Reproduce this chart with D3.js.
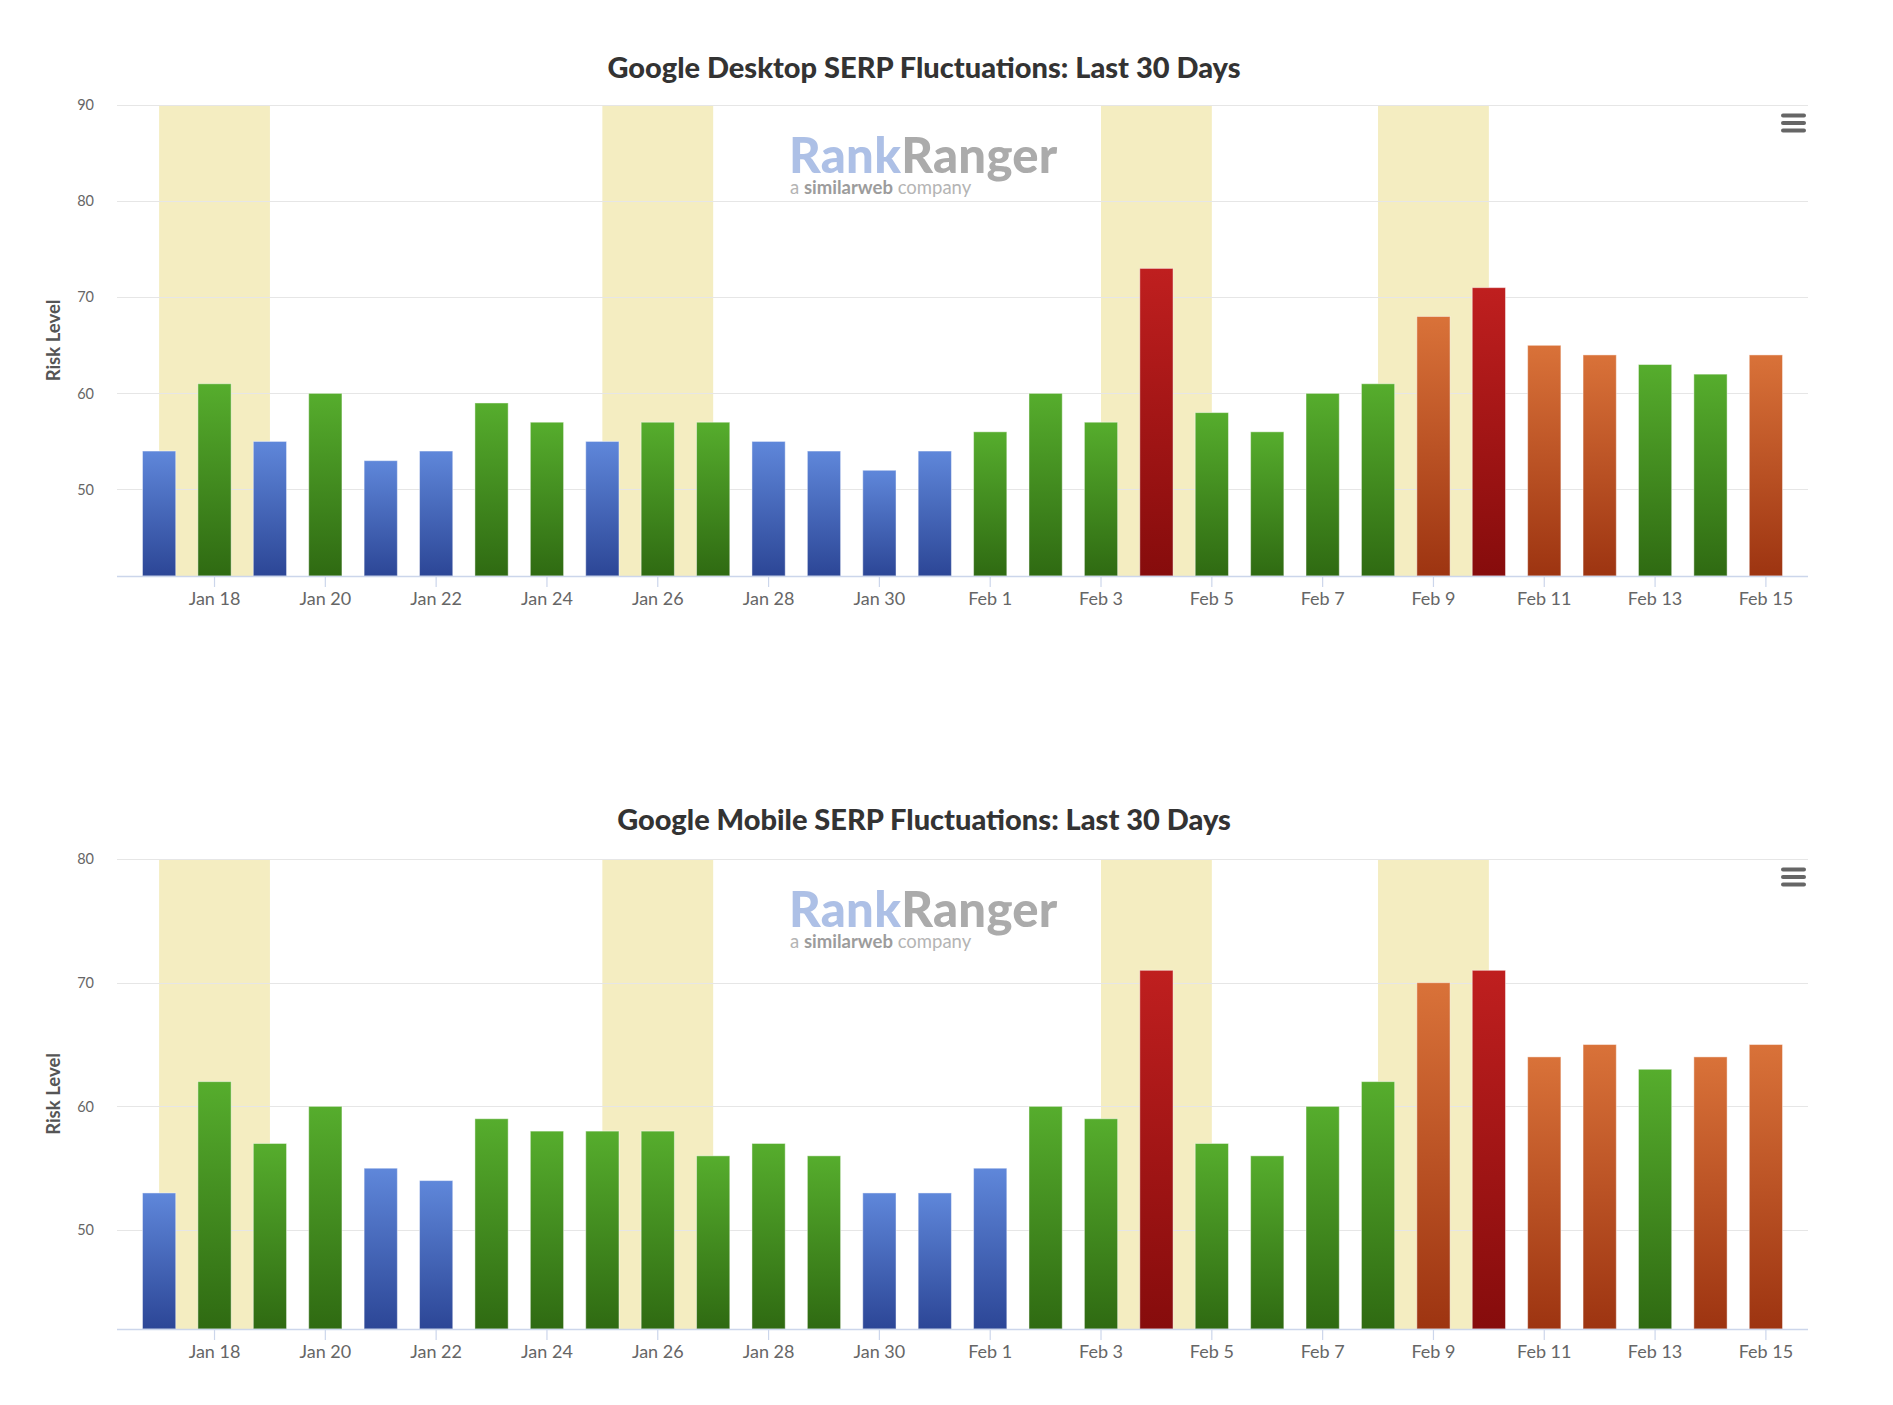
<!DOCTYPE html>
<html>
<head>
<meta charset="utf-8">
<script src="https://cdn.jsdelivr.net/npm/d3@7"></script>
<style>
  html, body { margin: 0; padding: 0; background: #fff; }
  svg { display: block; font-family: Lato, "Open Sans", sans-serif; }
</style>
</head>
<body>
<svg id="chart" width="1893" height="1405"></svg>
<script>
// ---- data ----
const categories = ["Jan 17","Jan 18","Jan 19","Jan 20","Jan 21","Jan 22","Jan 23","Jan 24","Jan 25","Jan 26",
  "Jan 27","Jan 28","Jan 29","Jan 30","Jan 31","Feb 1","Feb 2","Feb 3","Feb 4","Feb 5",
  "Feb 6","Feb 7","Feb 8","Feb 9","Feb 10","Feb 11","Feb 12","Feb 13","Feb 14","Feb 15"];
const tickLabels = ["Jan 18","Jan 20","Jan 22","Jan 24","Jan 26","Jan 28","Jan 30","Feb 1","Feb 3","Feb 5",
  "Feb 7","Feb 9","Feb 11","Feb 13","Feb 15"];
const desktopValues = [54,61,55,60,53,54,59,57,55,57,57,55,54,52,54,56,60,57,73,58,56,60,61,68,71,65,64,63,62,64];
const mobileValues  = [53,62,57,60,55,54,59,58,58,58,56,57,56,53,53,55,60,59,71,57,56,60,62,70,71,64,65,63,64,65];
const highlightBands = [["Jan 17","Jan 19"],["Jan 25","Jan 27"],["Feb 3","Feb 5"],["Feb 8","Feb 10"]];
const desktopTicks = [50,60,70,80,90];
const mobileTicks = [50,60,70,80];
const riskThresholds = [56,64,71];
const riskClasses = ["blue","green","orange","red"];
const titles = ["Google Desktop SERP Fluctuations: Last 30 Days","Google Mobile SERP Fluctuations: Last 30 Days"];

// ---- styles ----
const gradients = {
  blue:   ["#5f87da","#2c4696"],
  green:  ["#56ad2d","#2f6a12"],
  orange: ["#d97239","#9d3411"],
  red:    ["#bf1f1f","#860c0c"]
};

const svg = d3.select("#chart");
const defs = svg.append("defs");
Object.entries(gradients).forEach(([k,[c1,c2]]) => {
  const g = defs.append("linearGradient").attr("id","grad-"+k)
    .attr("x1",0).attr("y1",0).attr("x2",0).attr("y2",1);
  g.append("stop").attr("offset","0%").attr("stop-color",c1);
  g.append("stop").attr("offset","100%").attr("stop-color",c2);
});

const colorClass = d3.scaleThreshold().domain(riskThresholds).range(riskClasses);

const plotLeft = 117, plotRight = 1808;
const x = d3.scaleBand().domain(categories).range([plotLeft, plotRight])
  .paddingInner(0.4).paddingOuter(0.46);
const cx = d => x(d) + x.bandwidth()/2;

const charts = [
  {title: titles[0], values: desktopValues, ticks: desktopTicks, yMin: 41, yMax: 90, top: 105, bottom: 576, titleY: 78},
  {title: titles[1], values: mobileValues,  ticks: mobileTicks,  yMin: 42, yMax: 80, top: 859, bottom: 1329, titleY: 830}
];

charts.forEach(c => {
  const g = svg.append("g");
  const y = d3.scaleLinear().domain([c.yMin, c.yMax]).range([c.bottom, c.top]);

  // title
  g.append("text").attr("x", 924).attr("y", c.titleY).attr("text-anchor","middle")
    .attr("font-size", 29).attr("font-weight", 900).attr("fill", "#333").text(c.title);

  // plot bands
  g.selectAll("rect.band").data(highlightBands).join("rect")
    .attr("x", d => cx(d[0])).attr("width", d => cx(d[1]) - cx(d[0]))
    .attr("y", c.top).attr("height", c.bottom - c.top).attr("fill", "#f4edc1");

  // grid lines
  g.selectAll("line.grid").data(c.ticks).join("line")
    .attr("x1", plotLeft).attr("x2", plotRight)
    .attr("y1", d => Math.round(y(d)) + 0.5).attr("y2", d => Math.round(y(d)) + 0.5)
    .attr("stroke", "#e6e6e6").attr("stroke-width", 1.2);

  // y axis
  const yAxis = d3.axisLeft(y).tickValues(c.ticks).tickSize(0).tickPadding(0);
  const ya = g.append("g").attr("transform", `translate(${plotLeft - 23},0)`).call(yAxis);
  ya.select(".domain").remove();
  ya.selectAll("text").attr("font-size", 14.5).attr("fill", "#666").attr("font-family", "Lato, sans-serif");

  // y title
  g.append("text").attr("transform", `translate(60,${(c.top + c.bottom)/2}) rotate(-90)`)
    .attr("text-anchor","middle").attr("font-size", 18.5).attr("font-weight", 700)
    .attr("fill", "#555").text("Risk Level");

  // watermark
  const wm = g.append("g");
  const t1 = wm.append("text").attr("x", 789).attr("y", c.top + 68)
    .attr("font-size", 49).attr("font-weight", 900).attr("letter-spacing", 0.3);
  t1.append("tspan").attr("fill", "#adc0e6").text("Rank");
  t1.append("tspan").attr("fill", "#ababab").text("Ranger");
  const t2 = wm.append("text").attr("x", 790).attr("y", c.top + 89).attr("font-size", 18.5);
  t2.append("tspan").attr("fill", "#b4b4b4").text("a ");
  t2.append("tspan").attr("fill", "#9c9c9c").attr("font-weight", 700).text("similarweb");
  t2.append("tspan").attr("fill", "#b4b4b4").text(" company");

  // bars
  g.selectAll("rect.bar").data(c.values).join("rect")
    .attr("x", (d,i) => x(categories[i])).attr("width", x.bandwidth())
    .attr("y", d => y(d)).attr("height", d => c.bottom - y(d))
    .attr("fill", d => `url(#grad-${colorClass(d)})`)
    .attr("stroke", "rgba(255,255,255,0.45)").attr("stroke-width", 1);

  // x axis
  const xAxis = d3.axisBottom(x).tickValues(tickLabels).tickSize(11).tickPadding(5).tickSizeOuter(0);
  const xa = g.append("g").attr("transform", `translate(0,${c.bottom})`).call(xAxis);
  xa.select(".domain").attr("stroke", "#ccd6eb").attr("stroke-width", 1.5)
    .attr("d", `M${plotLeft},0.5H${plotRight}`);
  xa.selectAll(".tick line").attr("stroke", "#ccd6eb").attr("stroke-width", 1.2);
  xa.selectAll("text").attr("font-size", 18).attr("fill", "#666").attr("font-family", "Lato, sans-serif");

  // menu icon
  const menu = g.append("g").attr("stroke", "#666").attr("stroke-width", 4).attr("stroke-linecap", "round");
  [0, 7.5, 15].forEach(dy => {
    menu.append("line").attr("x1", 1783).attr("x2", 1804)
      .attr("y1", c.top + 10.5 + dy).attr("y2", c.top + 10.5 + dy);
  });
});
</script>
</body>
</html>
